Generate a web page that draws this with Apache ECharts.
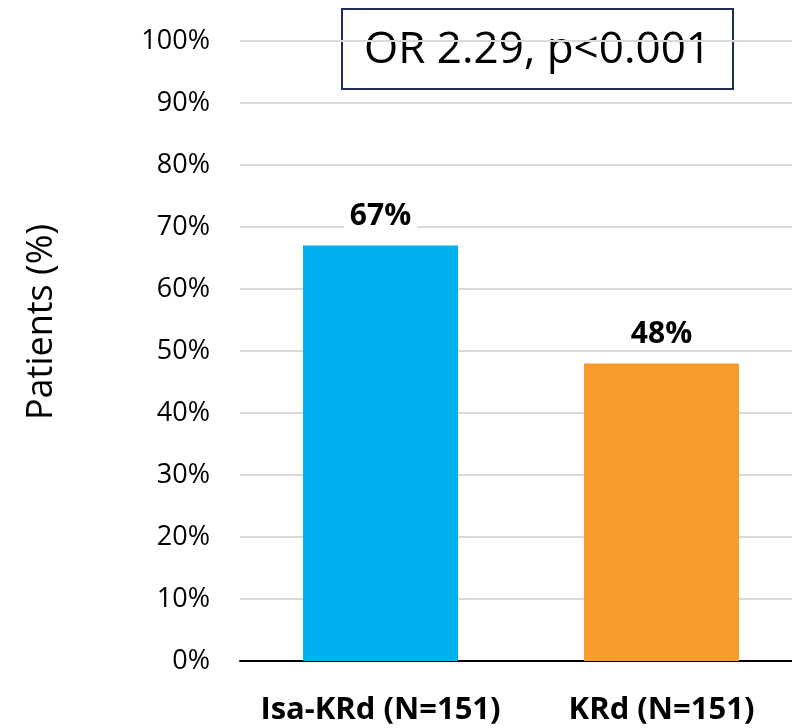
<!DOCTYPE html>
<html>
<head>
<meta charset="utf-8">
<script src="https://cdn.jsdelivr.net/npm/echarts@6/dist/echarts.min.js"></script>
<style>html,body{margin:0;padding:0;background:#fff;overflow:hidden}#c{width:802px;height:728px}</style>
</head>
<body>
<div id="c"></div>
<script>
const categories = ['Isa-KRd (N=151)', 'KRd (N=151)'];
const values = [67, 48];
const colors = ['#00b0f0', '#f79c2c'];
const yTicks = [0, 10, 20, 30, 40, 50, 60, 70, 80, 90, 100];
const annotation = 'OR 2.29, p<0.001';

const font = '"Open Sans", "Noto Sans", sans-serif';
const chart = echarts.init(document.getElementById('c'));
chart.setOption({
  animation: false,
  grid: { left: 240, right: 0, top: 41, bottom: 67 },
  xAxis: {
    type: 'category',
    data: categories,
    axisTick: { show: false },
    axisLine: { lineStyle: { color: '#000', width: 2 } },
    axisLabel: { interval: 0, color: '#000', fontFamily: font, fontWeight: 'bold', fontSize: 31, margin: 34 }
  },
  yAxis: {
    type: 'value',
    min: yTicks[0], max: yTicks[yTicks.length - 1], interval: 10,
    name: 'Patients (%)',
    nameLocation: 'middle',
    nameGap: 180,
    nameRotate: 90,
    nameTextStyle: { color: '#000', fontFamily: font, fontSize: 36, padding: [0, 0, 0, 58] },
    axisLine: { show: false },
    axisTick: { show: false },
    axisLabel: { color: '#000', fontFamily: font, fontSize: 27, margin: 30, formatter: v => v + '%' },
    splitLine: { lineStyle: { color: '#d9d9d9', width: 2 } }
  },
  series: [{
    type: 'bar',
    barWidth: 155,
    data: values.map((v, i) => ({ value: v, itemStyle: { color: colors[i] } })),
    label: {
      show: true, position: 'top', distance: 14,
      formatter: p => p.value + '%',
      color: '#000', fontFamily: font, fontWeight: 'bold', fontSize: 30,
      backgroundColor: '#fff', padding: [0, 6]
    }
  }],
  graphic: [{
    type: 'group', left: 341, top: 8,
    children: [
      { type: 'rect', shape: { x: 0, y: 0, width: 391, height: 80 }, style: { fill: '#fff', stroke: '#1f2d5a', lineWidth: 2 } },
      { type: 'text', x: 195.5, y: 41, style: { text: annotation, fill: '#000', fontFamily: 'Open Sans', fontSize: 44, textAlign: 'center', textVerticalAlign: 'middle' } }
    ]
  }]
});
</script>
</body>
</html>
